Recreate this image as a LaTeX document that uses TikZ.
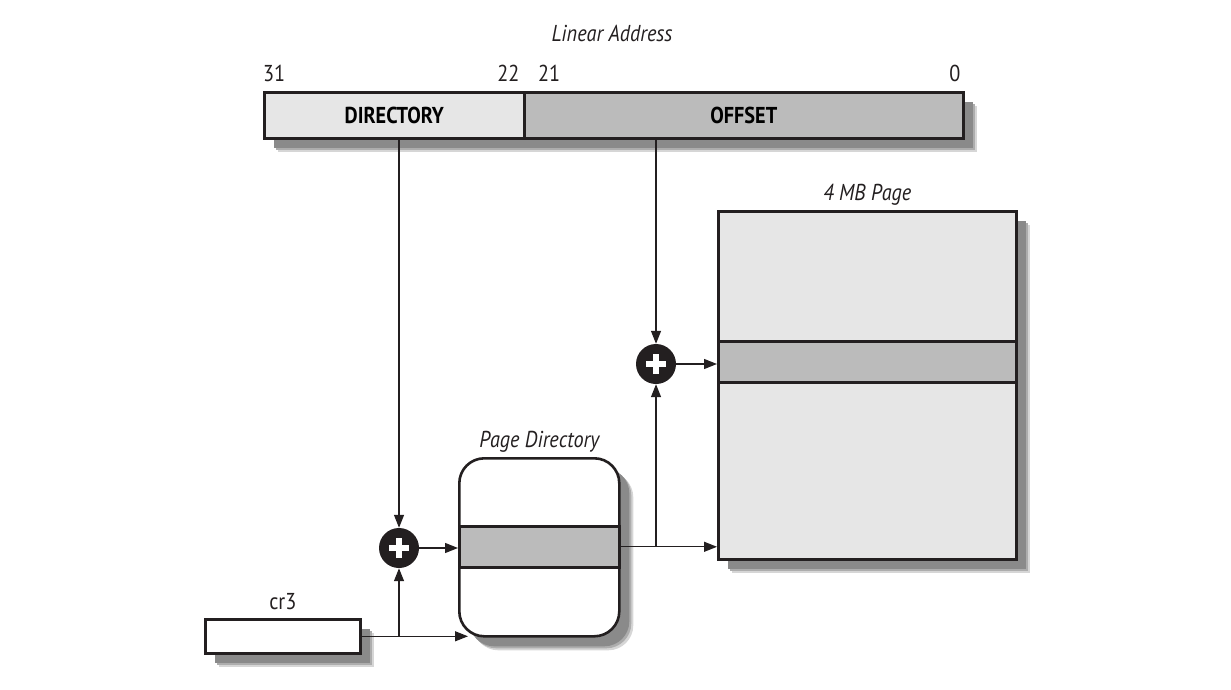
\documentclass[tikz,border=0pt]{standalone}
\usepackage{fontspec}
\setmainfont{PT Sans}[FakeStretch=0.88]
\usepackage{tikz}
\usetikzlibrary{arrows.meta, positioning, calc}
\definecolor{inkblk}{RGB}{35,31,32}
\definecolor{paleg}{RGB}{230,230,230}
\definecolor{midg}{RGB}{187,187,187}
\tikzset{
    shd/.style={preaction={fill=black!16, transform canvas={shift={(14pt,-14pt)}}},
                preaction={fill=black!32, transform canvas={shift={(12pt,-12pt)}}},
                preaction={fill=black!46, transform canvas={shift={(10pt,-10pt)}}}},
    fieldbox/.style={rectangle, draw=inkblk, line width=2.6pt, anchor=north west,
                     minimum height=46pt, inner sep=0pt, font=\bfseries\fontsize{23}{26}\selectfont},
    entry/.style={rectangle, draw=inkblk, line width=2.6pt, fill=midg,
                  anchor=north west, minimum height=41pt, inner sep=0pt},
    adder/.style={circle, fill=inkblk, minimum size=40pt, inner sep=0pt,
                  path picture={
                    \draw[white, line width=5.5pt] (path picture bounding box.center) +(-10pt,0) -- +(10pt,0);
                    \draw[white, line width=5.5pt] (path picture bounding box.center) +(0,-10pt) -- +(0,10pt);}},
    arrow/.style={-{Triangle[length=13pt, width=10pt]}, line width=1.3pt, draw=inkblk},
    ttl/.style={font=\itshape\fontsize{23}{26}\selectfont, text=inkblk},
    bitno/.style={font=\fontsize{23}{26}\selectfont, text=inkblk, inner sep=0pt},
}
\begin{document}
\begin{tikzpicture}[x=1pt, y=-1pt]
    \useasboundingbox (0,0) rectangle (1231,689);
    % linear address
    \node[fieldbox, shd, fill=paleg, minimum width=260pt] (dirfld) at (263,91) {DIRECTORY};
    \node[fieldbox, shd, fill=midg, minimum width=439pt] (offfld) at (523,91) {OFFSET};
    \node[ttl] (lintitle) at (612,33) {Linear Address};
    \node[bitno, anchor=south west] (b31) at ([yshift=9pt]dirfld.north west) {31};
    \node[bitno, anchor=south east] (b22) at ([xshift=-6pt, yshift=9pt]dirfld.north east) {22};
    \node[bitno, anchor=south west] (b21) at ([xshift=15pt, yshift=9pt]offfld.north west) {21};
    \node[bitno, anchor=south east] (b0) at ([xshift=-4pt, yshift=9pt]offfld.north east) {0};

    % page directory
    \node[rectangle, rounded corners=25pt, draw=inkblk, line width=2.6pt, fill=white, shd,
          anchor=north west, minimum width=160pt, minimum height=178pt] (pd) at (458,457) {};
    \node[entry, minimum width=160pt] (pdent) at (458,525) {};
    \node[ttl, above=1pt of pd] (pdtitle) {Page Directory};

    % 4 MB page
    \node[rectangle, draw=inkblk, line width=2.6pt, fill=paleg, shd,
          anchor=north west, minimum width=298pt, minimum height=348pt] (page) at (717,210) {};
    \node[entry, minimum width=298pt] (pgent) at (717,340) {};
    \node[ttl, above=1pt of page] (pgtitle) {4 MB Page};

    % cr3
    \node[rectangle, draw=inkblk, line width=2.6pt, fill=white, shd, anchor=north west,
          minimum width=155pt, minimum height=34pt] (cr3) at (204,618) {};
    \node[bitno, above=8pt of cr3] (cr3lbl) {cr3};

    % adders
    \node[adder] (plusA) at (399,548) {};
    \node[adder] (plusB) at (656,364) {};

    % connectors
    \coordinate (jA) at (plusA |- cr3.east);
    \coordinate (jB) at (plusB |- pdent.east);
    \draw[arrow] (plusA |- dirfld.south) -- (plusA.north);
    \draw[arrow] (plusB |- offfld.south) -- (plusB.north);
    \draw[arrow] (cr3.east) -- ([xshift=10pt]pd.west |- cr3.east);
    \draw[arrow] (jA) -- (plusA.south);
    \draw[arrow] (plusA.east) -- (plusA -| pdent.west);
    \draw[arrow] (pdent.east) -- (pdent.east -| page.west);
    \draw[arrow] (jB) -- (plusB.south);
    \draw[arrow] (plusB.east) -- (plusB -| pgent.west);
\end{tikzpicture}
\end{document}
